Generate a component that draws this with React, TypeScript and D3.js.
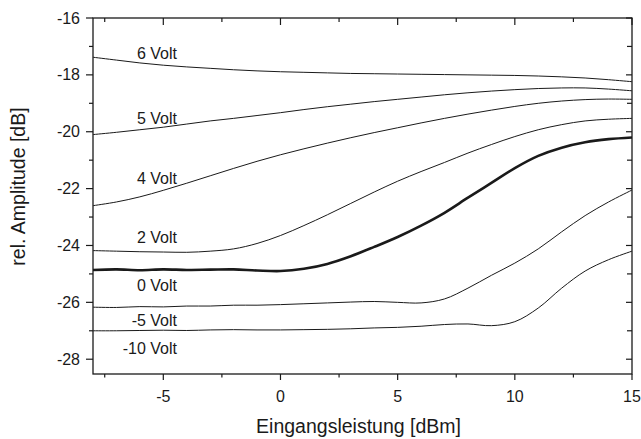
import React from "react";
import * as d3 from "d3";

const inputPower = [-8, -7, -6, -5, -4, -3, -2, -1, 0, 1, 2, 3, 4, 5, 6, 7, 8, 9, 10, 11, 12, 13, 14, 15];

const v6 = [-17.38, -17.48, -17.58, -17.66, -17.72, -17.77, -17.82, -17.86, -17.89, -17.91, -17.93, -17.95, -17.96, -17.97, -17.98, -17.99, -18.0, -18.01, -18.02, -18.04, -18.07, -18.11, -18.17, -18.24];
const v5 = [-20.1, -20.02, -19.93, -19.84, -19.73, -19.62, -19.53, -19.43, -19.33, -19.22, -19.12, -19.03, -18.94, -18.86, -18.78, -18.7, -18.63, -18.57, -18.52, -18.48, -18.46, -18.46, -18.5, -18.56];
const v4 = [-22.6, -22.47, -22.29, -22.06, -21.81, -21.55, -21.29, -21.04, -20.81, -20.6, -20.4, -20.21, -20.03, -19.86, -19.69, -19.53, -19.38, -19.24, -19.11, -19.0, -18.92, -18.87, -18.85, -18.86];
const v2 = [-24.18, -24.2, -24.22, -24.23, -24.24, -24.2, -24.12, -23.93, -23.65, -23.3, -22.92, -22.52, -22.12, -21.74, -21.4, -21.08, -20.75, -20.45, -20.17, -19.93, -19.75, -19.62, -19.56, -19.53];
const v0 = [-24.86, -24.84, -24.87, -24.84, -24.86, -24.85, -24.84, -24.88, -24.9, -24.82, -24.65, -24.38, -24.05, -23.7, -23.3, -22.85, -22.32, -21.8, -21.28, -20.85, -20.56, -20.37, -20.26, -20.2];
const vm5 = [-26.17, -26.18, -26.15, -26.16, -26.13, -26.13, -26.1, -26.1, -26.08, -26.05, -26.02, -25.99, -25.97, -26.0, -26.02, -25.88, -25.5, -25.05, -24.62, -24.12, -23.52, -22.95, -22.47, -22.05];
const vm10 = [-27.0, -27.0, -26.99, -26.98, -26.99, -26.97, -26.96, -26.97, -26.97, -26.96, -26.95, -26.93, -26.9, -26.88, -26.84, -26.78, -26.76, -26.82, -26.68, -26.2, -25.5, -24.9, -24.5, -24.2];

const seriesNames = ["6 Volt", "5 Volt", "4 Volt", "2 Volt", "0 Volt", "-5 Volt", "-10 Volt"];
const seriesValues = [v6, v5, v4, v2, v0, vm5, vm10];
// label anchor (right end) in data coordinates
const labelY = [-17.45, -19.72, -21.85, -23.92, -25.6, -26.84, -27.8];

const xMajorTicks = [-5, 0, 5, 10, 15];
const xMinorTicks = [-7.5, -2.5, 2.5, 7.5, 12.5];
const yMajorTicks = [-16, -18, -20, -22, -24, -26, -28];
const yMinorTicks = [-17, -19, -21, -23, -25, -27];

const W = 641;
const H = 439;
const left = 93;
const right = 632;
const top = 18;
const bottom = 374;

export default function App() {
  const x = d3.scaleLinear().domain([-8, 15]).range([left, right]);
  const y = d3.scaleLinear().domain([-28.52, -16]).range([bottom, top]);

  const line = d3
    .line<number>()
    .x((_, i) => x(inputPower[i]))
    .y((d) => y(d))
    .curve(d3.curveCatmullRom.alpha(0.5));

  const font = "'Liberation Sans', Arial, Helvetica, sans-serif";
  const ink = "#1a1a1a";

  return (
    <svg
      width={W}
      height={H}
      style={{ position: "absolute", left: 0, top: 0, background: "#fff" }}
      fontFamily={font}
    >
      <rect x={0} y={0} width={W} height={H} fill="#fff" />
      <defs>
        <clipPath id="plot">
          <rect x={left} y={top} width={right - left} height={bottom - top} />
        </clipPath>
      </defs>

      {/* curves */}
      <g clipPath="url(#plot)" fill="none" stroke={ink}>
        {seriesValues.map((vals, i) => (
          <path
            key={seriesNames[i]}
            d={line(vals) || ""}
            strokeWidth={seriesNames[i] === "0 Volt" ? 2.6 : 1}
          />
        ))}
      </g>

      {/* curve labels */}
      {seriesNames.map((n, i) => (
        <text
          key={"lab" + n}
          x={177}
          y={y(labelY[i])}
          textAnchor="end"
          fontSize={16}
          fill={ink}
        >
          {n}
        </text>
      ))}

      {/* frame */}
      <rect
        x={left}
        y={top}
        width={right - left}
        height={bottom - top}
        fill="none"
        stroke={ink}
        strokeWidth={1.3}
      />

      {/* bottom / top axis ticks */}
      {xMajorTicks.map((t) => (
        <g key={"xb" + t}>
          <line x1={x(t)} x2={x(t)} y1={bottom} y2={bottom + 6} stroke={ink} strokeWidth={1.2} />
          <line x1={x(t)} x2={x(t)} y1={top} y2={top + 7} stroke={ink} strokeWidth={1.2} />
          <text x={x(t)} y={402} textAnchor="middle" fontSize={16} fill={ink}>
            {t}
          </text>
        </g>
      ))}
      {xMinorTicks.map((t) => (
        <g key={"xm" + t}>
          <line x1={x(t)} x2={x(t)} y1={bottom} y2={bottom + 3.5} stroke={ink} strokeWidth={1.2} />
          <line x1={x(t)} x2={x(t)} y1={top} y2={top + 4} stroke={ink} strokeWidth={1.2} />
        </g>
      ))}

      {/* left axis ticks (outward), right axis ticks (inward) */}
      {yMajorTicks.map((t) => (
        <g key={"ym" + t}>
          <line x1={left - 7} x2={left} y1={y(t)} y2={y(t)} stroke={ink} strokeWidth={1.2} />
          <line x1={right - 6} x2={right} y1={y(t)} y2={y(t)} stroke={ink} strokeWidth={1.2} />
          <text x={80} y={y(t) + 5.5} textAnchor="end" fontSize={16} fill={ink}>
            {t}
          </text>
        </g>
      ))}
      {yMinorTicks.map((t) => (
        <g key={"yn" + t}>
          <line x1={left - 4} x2={left} y1={y(t)} y2={y(t)} stroke={ink} strokeWidth={1.2} />
          <line x1={right - 5} x2={right} y1={y(t)} y2={y(t)} stroke={ink} strokeWidth={1.2} />
        </g>
      ))}

      {/* axis titles */}
      <text x={358.5} y={433} textAnchor="middle" fontSize={19.5} fill={ink}>
        Eingangsleistung [dBm]
      </text>
      <text
        transform={`translate(25, 186.5) rotate(-90)`}
        textAnchor="middle"
        fontSize={19.5}
        fill={ink}
      >
        rel. Amplitude [dB]
      </text>
    </svg>
  );
}
